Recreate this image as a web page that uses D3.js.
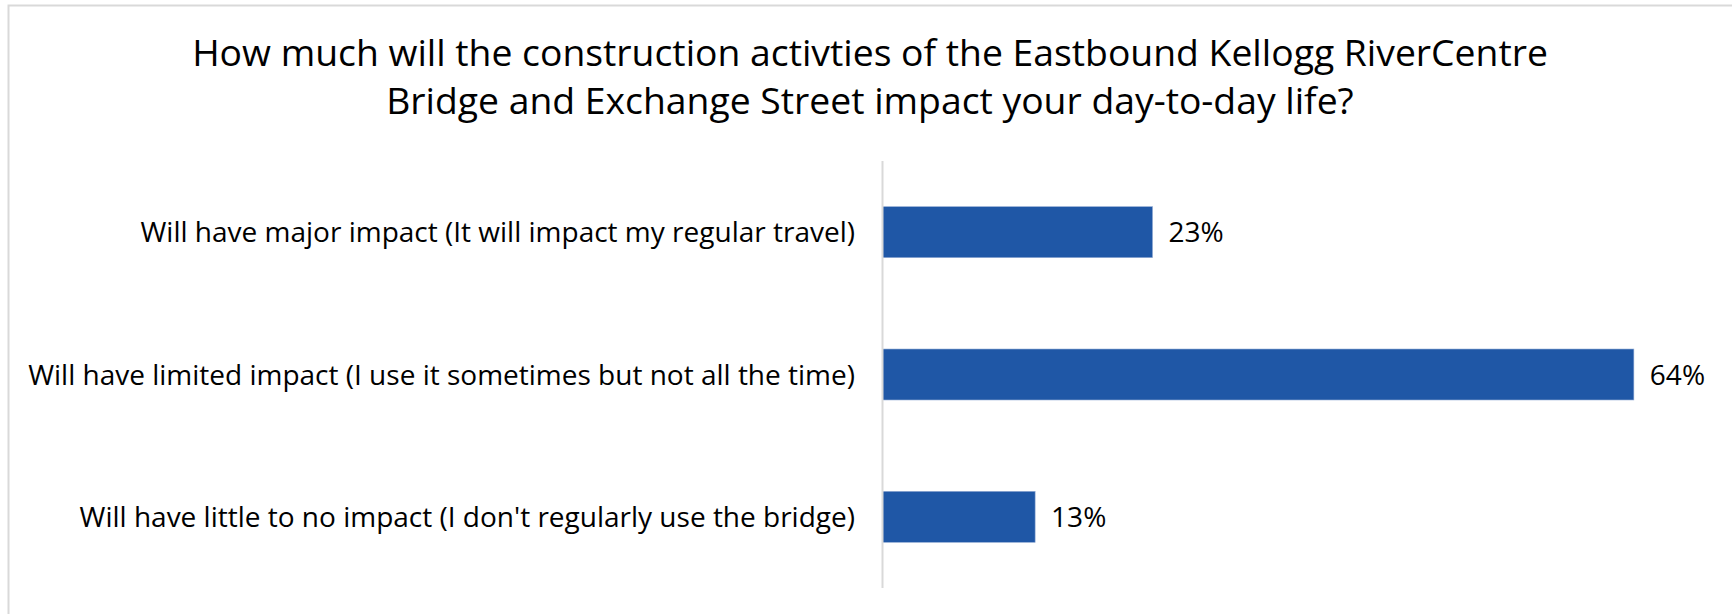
<!DOCTYPE html>
<html>
<head>
<meta charset="utf-8">
<script src="https://cdn.jsdelivr.net/npm/d3@7"></script>
<style>
  body { margin: 0; background: #fff; }
  text { font-family: "Open Sans", sans-serif; fill: #000; }
</style>
</head>
<body>
<svg id="chart" width="1732" height="614"></svg>
<script>
// data
var titleLines = ["How much will the construction activties of the Eastbound Kellogg RiverCentre",
  "Bridge and Exchange Street impact your day-to-day life?"];
var categories = ["Will have major impact (It will impact my regular travel)",
  "Will have limited impact (I use it sometimes but not all the time)",
  "Will have little to no impact (I don't regularly use the bridge)"];
var values = [0.23, 0.64, 0.13];

var svg = d3.select("#chart");

// frame, only top + left edge show in the crop
svg.append("path").attr("d", "M8.5,614 V5.5 H1732").attr("fill", "none").attr("stroke", "#d9d9d9").attr("stroke-width", 2);

svg.append("text").attr("text-anchor", "middle").attr("font-size", 37.3)
  .selectAll("tspan").data(titleLines).join("tspan")
  .attr("x", 870).attr("y", function (d, i) { return 66 + i * 47.5; })
  .text(function (d) { return d; });

var x0 = 882.5;
var x = d3.scaleLinear().domain([0, 0.7]).range([x0, x0 + 0.7 * 1174]);
var y = d3.scaleBand().domain(categories).range([161, 588]).paddingInner(0.642).paddingOuter(0.321);

svg.append("g").selectAll("rect").data(values).join("rect")
  .attr("x", x(0)).attr("y", function (d, i) { return y(categories[i]); })
  .attr("width", function (d) { return x(d) - x(0); })
  .attr("height", y.bandwidth())
  .attr("fill", "#1f57a6").attr("stroke", "#8fa9d3").attr("stroke-width", 0.6);

// value axis line
svg.append("line").attr("x1", x0).attr("x2", x0).attr("y1", 161).attr("y2", 588)
  .attr("stroke", "#d9d9d9").attr("stroke-width", 2);

svg.append("g").selectAll("text").data(values).join("text")
  .attr("x", function (d) { return x(d) + 16; })
  .attr("y", function (d, i) { return y(categories[i]) + y.bandwidth() / 2 + 10; })
  .attr("font-size", 28)
  .text(function (d) { return Math.round(d * 100) + "%"; });

svg.append("g").selectAll("text").data(categories).join("text")
  .attr("x", 855).attr("text-anchor", "end")
  .attr("y", function (d) { return y(d) + y.bandwidth() / 2 + 10; })
  .attr("font-size", 28)
  .text(function (d) { return d; });
</script>
</body>
</html>
